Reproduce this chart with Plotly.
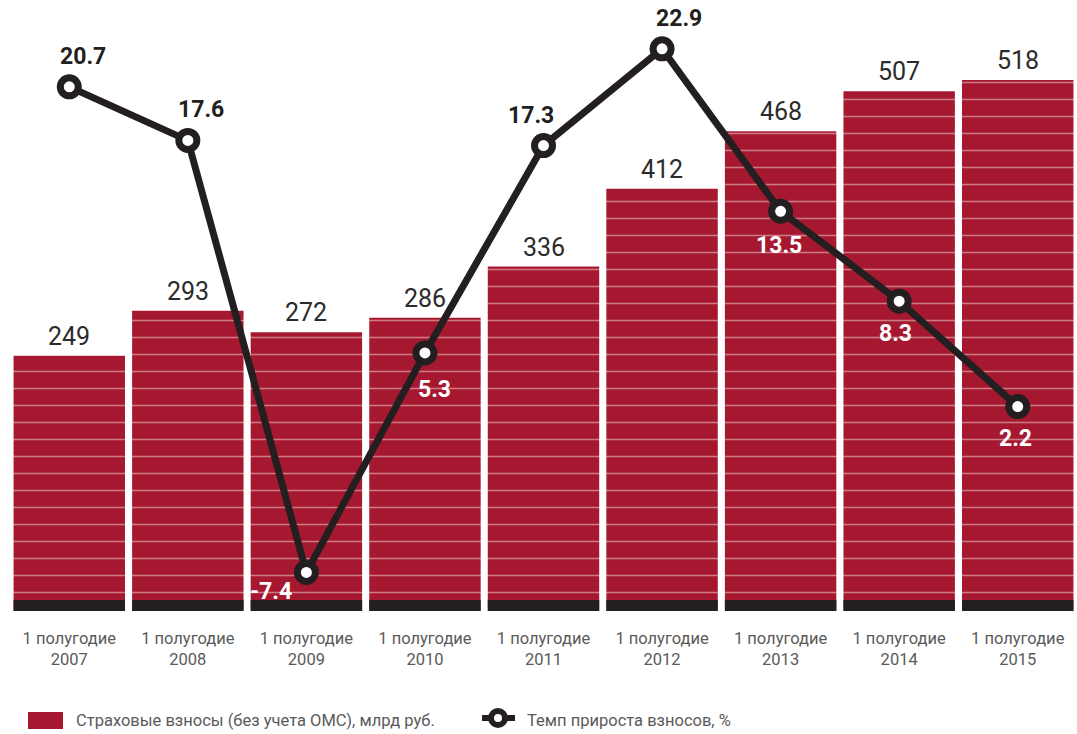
import plotly.graph_objects as go

# ---- data ----
categories = ["1 полугодие<br>2007", "1 полугодие<br>2008", "1 полугодие<br>2009",
              "1 полугодие<br>2010", "1 полугодие<br>2011", "1 полугодие<br>2012",
              "1 полугодие<br>2013", "1 полугодие<br>2014", "1 полугодие<br>2015"]
contributions = [249, 293, 272, 286, 336, 412, 468, 507, 518]
growth = [20.7, 17.6, -7.4, 5.3, 17.3, 22.9, 13.5, 8.3, 2.2]
bar_name = "Страховые взносы (без учета ОМС), млрд руб."
line_name = "Темп прироста взносов, %"

# ---- styles ----
RED = "#a5182f"
DARK = "#231f20"
GRAY = "#5a5a5a"
FONT = "Roboto"
STRIP = 10.7  # height of the dark base strip, in bar units

W, H = 1077, 734
ML, MR, MT, MB = 10, 0, 40, 123
PW, PH = W - ML - MR, H - MT - MB


def px(x):
    return (x - ML) / PW


def py(y):
    return (H - MB - y) / PH


# label placement offsets (px) for growth labels: (xshift, yshift, color)
growth_label_style = [
    (14, 30, DARK), (13, 31, DARK), (-35, -19, "white"), (10, -37, "white"),
    (-13, 30, DARK), (17, 30, DARK), (-2, -34, "white"), (-4, -32, "white"),
    (-2, -32, "white"),
]

fig = go.Figure()

fig.add_trace(go.Bar(
    x=categories, y=contributions, showlegend=False, name=bar_name,
    marker=dict(color=RED, line=dict(width=0),
                pattern=dict(shape="-", fgcolor="#f5dade", bgcolor=RED,
                             size=17, solidity=0.09, fillmode="overlay")),
    hoverinfo="skip",
))
fig.add_trace(go.Bar(
    x=categories, y=[STRIP] * len(categories), showlegend=False,
    marker=dict(color=DARK, line=dict(width=0)), hoverinfo="skip",
))
fig.add_trace(go.Scatter(
    x=categories, y=growth, yaxis="y2", name=line_name, mode="lines+markers",
    showlegend=False,
    line=dict(color=DARK, width=7),
    marker=dict(size=18, color="white", line=dict(color=DARK, width=7)),
    cliponaxis=False, hoverinfo="skip",
))

annotations = []
for c, v in zip(categories, contributions):
    annotations.append(dict(x=c, y=v, xref="x", yref="y", text=str(v),
                            showarrow=False, yanchor="bottom", yshift=3,
                            font=dict(family=FONT, size=25, color="#2b2b2b")))
for c, v, (dx, dy, col) in zip(categories, growth, growth_label_style):
    annotations.append(dict(x=c, y=v, xref="x", yref="y2", text=f"<b>{v}</b>",
                            showarrow=False, xshift=dx, yshift=dy,
                            font=dict(family=FONT, size=23, color=col)))

# manual legend
annotations.append(dict(x=px(74), y=py(720), xref="paper", yref="paper",
                        text=bar_name, showarrow=False, xanchor="left",
                        yanchor="middle",
                        font=dict(family=FONT, size=16.5, color=GRAY)))
annotations.append(dict(x=px(525), y=py(720), xref="paper", yref="paper",
                        text=line_name, showarrow=False, xanchor="left",
                        yanchor="middle",
                        font=dict(family=FONT, size=16.5, color=GRAY)))
shapes = [
    dict(type="rect", xref="paper", yref="paper", x0=px(28), x1=px(63),
         y0=py(729), y1=py(712), fillcolor=RED, line=dict(width=0)),
    dict(type="line", xref="paper", yref="paper", x0=px(482), x1=px(515),
         y0=py(718), y1=py(718), line=dict(color=DARK, width=6)),
    dict(type="circle", xref="paper", yref="paper", x0=px(491), x1=px(505),
         y0=py(725), y1=py(711), fillcolor="white",
         line=dict(color=DARK, width=6)),
]

fig.update_layout(
    width=W, height=H,
    margin=dict(l=ML, r=MR, t=MT, b=MB, autoexpand=False),
    paper_bgcolor="white", plot_bgcolor="white",
    barmode="overlay", bargap=0.06,
    font=dict(family=FONT, color=GRAY),
    xaxis=dict(showgrid=False, showline=False, zeroline=False,
               range=[-0.5, len(categories) - 0.5],
               tickfont=dict(size=16.5, color=GRAY), ticks="",
               ticklabelstandoff=15, automargin=False),
    yaxis=dict(range=[0, 557], visible=False),
    yaxis2=dict(range=[-9.63, 23.41], overlaying="y", side="right",
                visible=False),
    showlegend=False,
    hovermode=False,
    annotations=annotations,
    shapes=shapes,
)

fig.write_html("out.html", config={"displayModeBar": False},
               post_script="document.body.style.margin='0';"
                           "document.body.style.overflow='hidden';")
